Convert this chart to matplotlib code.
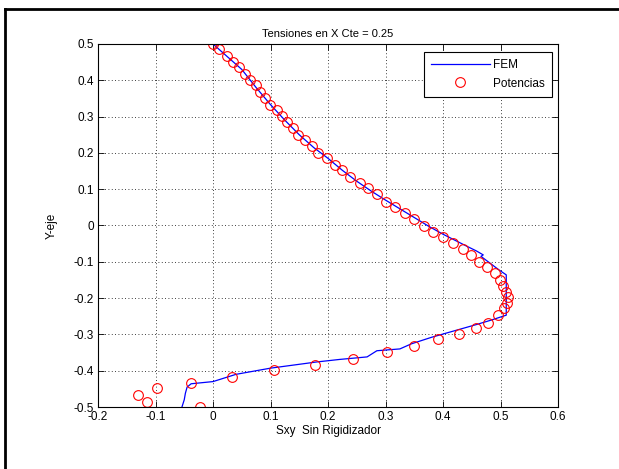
import matplotlib
matplotlib.use("Agg")
import matplotlib.pyplot as plt
from matplotlib.lines import Line2D

plt.rcParams['font.family'] = ['Liberation Sans', 'DejaVu Sans']

# FEM curve
fem_x = [0.000, 0.025, 0.050, 0.075, 0.100, 0.125, 0.150, 0.175, 0.200, 0.225,
         0.250, 0.275, 0.300, 0.325, 0.350, 0.375, 0.400, 0.420, 0.440, 0.458,
         0.470, 0.466, 0.482, 0.497, 0.510, 0.510, 0.485, 0.460, 0.420, 0.380,
         0.345, 0.325, 0.285, 0.268, 0.220, 0.180, 0.100, 0.040, 0.000, -0.038,
         -0.045, -0.048, -0.050, -0.054]
fem_y = [0.500, 0.465, 0.430, 0.380, 0.333, 0.290, 0.250, 0.215, 0.185, 0.152,
         0.122, 0.095, 0.070, 0.046, 0.022, -0.002, -0.024, -0.040, -0.056, -0.070,
         -0.081, -0.085, -0.104, -0.122, -0.136, -0.247, -0.260, -0.272, -0.290, -0.308,
         -0.326, -0.340, -0.345, -0.362, -0.369, -0.376, -0.393, -0.410, -0.430, -0.436,
         -0.445, -0.462, -0.480, -0.500]

# Potencias points
pot_x = [0.000, 0.010, 0.024, 0.035, 0.045, 0.056, 0.064, 0.075, 0.082, 0.090,
         0.099, 0.111, 0.120, 0.129, 0.139, 0.148, 0.160, 0.172, 0.183, 0.198,
         0.212, 0.224, 0.238, 0.256, 0.270, 0.285, 0.301, 0.317, 0.334, 0.350,
         0.367, 0.383, 0.400, 0.417, 0.435, 0.449, 0.463, 0.477, 0.490, 0.499,
         0.504, 0.510, 0.513, 0.511, 0.506, 0.496, 0.478, 0.457, 0.428, 0.391,
         0.350, 0.302, 0.244, 0.177, 0.106, 0.033, -0.038, -0.097, -0.115, -0.130,
         -0.023]
pot_y = [0.500, 0.486, 0.467, 0.450, 0.437, 0.417, 0.401, 0.387, 0.368, 0.351,
         0.332, 0.318, 0.302, 0.285, 0.269, 0.249, 0.236, 0.219, 0.200, 0.186,
         0.167, 0.153, 0.134, 0.117, 0.103, 0.087, 0.065, 0.051, 0.034, 0.018,
         -0.001, -0.018, -0.032, -0.048, -0.065, -0.081, -0.101, -0.114, -0.131, -0.150,
         -0.167, -0.183, -0.197, -0.213, -0.227, -0.247, -0.268, -0.282, -0.299, -0.313,
         -0.333, -0.348, -0.368, -0.384, -0.398, -0.417, -0.434, -0.448, -0.486, -0.467,
         -0.500]

x_ticks = [-0.2, -0.1, 0, 0.1, 0.2, 0.3, 0.4, 0.5, 0.6]
y_ticks = [-0.5, -0.4, -0.3, -0.2, -0.1, 0, 0.1, 0.2, 0.3, 0.4, 0.5]
x_ticklabels = ['-0.2', '-0.1', '0', '0.1', '0.2', '0.3', '0.4', '0.5', '0.6']
y_ticklabels = ['-0.5', '-0.4', '-0.3', '-0.2', '-0.1', '0', '0.1', '0.2', '0.3', '0.4', '0.5']

fig = plt.figure(figsize=(6.19, 4.69), dpi=100)
ax = fig.add_axes([98/619, 1-407/469, (558-98)/619, (407-44)/469])

ax.plot(fem_x, fem_y, color='#0000ff', lw=0.9, label='FEM')
ax.plot(pot_x, pot_y, 'o', mfc='none', mec='#ff0000', mew=0.8, ms=7,
        label='Potencias')

ax.set_xlim(-0.2, 0.6)
ax.set_ylim(-0.5, 0.5)
ax.set_xticks(x_ticks)
ax.set_yticks(y_ticks)
ax.set_xticklabels(x_ticklabels)
ax.set_yticklabels(y_ticklabels)
ax.tick_params(direction='in', top=True, right=True, length=4, width=0.6,
               labelsize=8.5, pad=3)
ax.grid(True, color='black', linestyle=(0, (1, 3)), lw=0.6)
for s in ax.spines.values():
    s.set_linewidth(0.8)

ax.set_title('Tensiones en X Cte = 0.25', fontsize=8, pad=5)
ax.set_xlabel('Sxy  Sin Rigidizador', fontsize=8.5, labelpad=1)
ax.set_ylabel('Y-eje', fontsize=8.5, labelpad=11)

leg = ax.legend(loc='upper right', fontsize=8.5, fancybox=False, framealpha=1,
                edgecolor='black', bbox_to_anchor=(552/619, 1-52/469),
                bbox_transform=fig.transFigure, borderaxespad=0,
                handlelength=5.0, handletextpad=0.3, borderpad=0.6,
                labelspacing=0.55)
leg.get_frame().set_linewidth(0.8)

# partial outer frame (screenshot border)
fig.add_artist(Line2D([5/619, 5/619], [0, 1-9/469], color='black', lw=2,
                      transform=fig.transFigure))
fig.add_artist(Line2D([5/619, 1], [1-9/469, 1-9/469], color='black', lw=2,
                      transform=fig.transFigure))

fig.savefig('out.png', dpi=100)
